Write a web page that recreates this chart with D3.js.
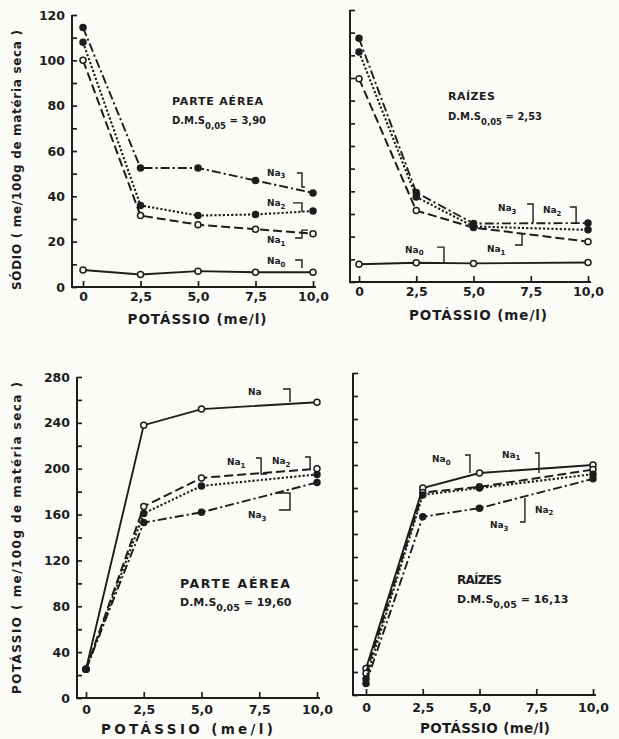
<!DOCTYPE html>
<html><head><meta charset="utf-8">
<script src="https://cdn.jsdelivr.net/npm/d3@7"></script>
<style>html,body{margin:0;padding:0;background:#fbfbf8;} svg{display:block}</style>
</head><body>
<svg id="c" width="619" height="739"></svg>
<script>
// ---- categories ----
const potassioLevels = [0, 2.5, 5.0, 7.5, 10.0];
const xTickLabels = ["0", "2,5", "5,0", "7,5", "10,0"];
const seriesNames = ["Na0", "Na1", "Na2", "Na3"];

// ---- Sódio, parte aérea (me/100 g) ----
const sodioAereaNa0 = [7.5, 5.5, 7.0, 6.5, 6.5];
const sodioAereaNa1 = [100, 31.5, 27.5, 25.5, 23.5];
const sodioAereaNa2 = [108, 36, 31.5, 32, 33.5];
const sodioAereaNa3 = [114.5, 52.5, 52.5, 47, 41.5];

// ---- Sódio, raízes ----
const sodioRaizNa0 = [7.8, 8.5, 8.2, null, 8.6];
const sodioRaizNa1 = [89.7, 31.5, 24, null, 17.8];
const sodioRaizNa2 = [101.5, 37.5, 24.5, null, 23];
const sodioRaizNa3 = [107.5, 39.5, 25.8, null, 26];

// ---- Potássio, parte aérea ----
const potAereaNa0 = [25, 238, 252, null, 258];
const potAereaNa1 = [25, 167, 192, null, 200];
const potAereaNa2 = [25, 161, 185, null, 195];
const potAereaNa3 = [25, 153, 162, null, 188];

// ---- Potássio, raízes ----
const potRaizNa0 = [23, 180, 193, null, 200];
const potRaizNa1 = [19, 176, 181, null, 196];
const potRaizNa2 = [14, 174, 180, null, 192];
const potRaizNa3 = [10, 155, 162.5, null, 188];

// ---- annotations (data units) ----
const annSodioAerea = [
  {label:"Na", sub:"3", tx:8.0, ty:49.0, br:[[9.30,50.3],[9.52,50.3],[9.52,44.1],[9.65,44.1]]},
  {label:"Na", sub:"2", tx:8.0, ty:35.7, br:[[9.13,37.1],[9.52,37.1],[9.52,33.1]]},
  {label:"Na", sub:"1", tx:8.0, ty:19.4, br:[[9.22,21.6],[9.52,21.6],[9.52,25.1],[9.78,25.1]]},
  {label:"Na", sub:"0", tx:8.0, ty:10.1, br:[[9.22,11.9],[9.52,11.9],[9.52,8.4]]}
];
const annSodioRaiz = [
  {label:"Na", sub:"3", tx:6.07, ty:31.3, br:[[7.34,34.4],[7.60,34.4],[7.60,26.0]]},
  {label:"Na", sub:"2", tx:8.03, ty:30.4, br:[[9.21,33.1],[9.48,33.1],[9.48,26.0]]},
  {label:"Na", sub:"1", tx:5.59, ty:13.2, br:[[6.81,16.3],[7.12,16.3],[7.12,21.2]]},
  {label:"Na", sub:"0", tx:2.01, ty:12.8, br:[[3.41,15.4],[3.71,15.4],[3.71,8.8]]}
];
const annPotAerea = [
  {label:"Na", sub:"", tx:7.01, ty:264.3, br:[[8.53,269.5],[8.83,269.5],[8.83,258.2]]},
  {label:"Na", sub:"1", tx:6.10, ty:203.2, br:[[7.36,209.4],[7.58,209.4],[7.58,195.4],[7.84,195.4]]},
  {label:"Na", sub:"2", tx:8.05, ty:204.1, br:[[9.48,210.2],[9.70,210.2],[9.70,198.9]]},
  {label:"Na", sub:"3", tx:7.01, ty:157.0, br:[[8.27,178.8],[8.83,178.8],[8.83,164.0],[8.35,164.0]]}
];
const annPotRaiz = [
  {label:"Na", sub:"0", tx:2.91, ty:202.6, br:[[4.36,208.7],[4.58,208.7],[4.58,193.0]]},
  {label:"Na", sub:"1", tx:5.99, ty:206.1, br:[[7.44,210.4],[7.62,210.4],[7.62,193.0]]},
  {label:"Na", sub:"2", tx:7.44, ty:158.3, br:[]},
  {label:"Na", sub:"3", tx:5.46, ty:145.2, br:[[7.0,171.3],[7.0,150.4],[6.78,150.4]]}
];

// ---- layout ----
const panels = [
  {x0:83, x1:313, yb:287, yt:15, ymax:120, axL:72, axR:316, minor:10, major:20, showY:true, xpad:5, ypad:7,
   series:[sodioAereaNa0, sodioAereaNa1, sodioAereaNa2, sodioAereaNa3], ann:annSodioAerea,
   title:"PARTE AÉREA", titleSize:11, titleLen:91, dmsSize:10, dms:"3,90", tx:172, ty:105, dmsY:124,
   xTitleX:197, xTitleY:324, xTitleLen:139,
   yTitle:"SÓDIO ( me/100g de matéria seca )", yTitleX:17, yTitleY:160, yTitleLen:260},
  {x0:359, x1:588, yb:282, yt:10, ymax:120, axL:350, axR:591, minor:10, major:20, showY:false, xpad:5, ypad:7,
   series:[sodioRaizNa0, sodioRaizNa1, sodioRaizNa2, sodioRaizNa3], ann:annSodioRaiz,
   title:"RAÍZES", titleSize:11, titleLen:47, dmsSize:10, dms:"2,53", tx:448, ty:100, dmsY:120,
   xTitleX:478, xTitleY:320, xTitleLen:138},
  {x0:86, x1:317, yb:698, yt:377, ymax:280, axL:77, axR:320, minor:20, major:40, showY:true, xpad:7, ypad:7,
   series:[potAereaNa0, potAereaNa1, potAereaNa2, potAereaNa3], ann:annPotAerea,
   title:"PARTE AÉREA", titleSize:12.5, titleLen:110, dmsSize:11, dms:"19,60", tx:180, ty:588, dmsY:606,
   xTitleX:187, xTitleY:734, xTitleLen:172,
   yTitle:"POTÁSSIO ( me/100g de matéria seca )", yTitleX:17, yTitleY:538, yTitleLen:312},
  {x0:366, x1:593, yb:695, yt:373, ymax:280, axL:353, axR:596, minor:20, major:40, showY:false, xpad:8, ypad:7,
   series:[potRaizNa0, potRaizNa1, potRaizNa2, potRaizNa3], ann:annPotRaiz,
   title:"RAÍZES", titleSize:12, titleLen:45, dmsSize:11, dms:"16,13", tx:457, ty:584, dmsY:603,
   xTitleX:485, xTitleY:733, xTitleLen:130}
];

const ink = "#1d1d1d";
const bg = "#fbfbf8";
const font = "'DejaVu Sans', Verdana, sans-serif";
const dashes = [null, "9,4", "2.2,2", "9,3,2.2,3"];
const widths = [1.9, 2.0, 2.1, 1.9];
const openMarker = [true, true, false, false];

const svg = d3.select("#c");
svg.append("rect").attr("width", 619).attr("height", 739).attr("fill", bg);

panels.forEach(p => {
  const x = d3.scaleLinear().domain([0, 10]).range([p.x0, p.x1]);
  const y = d3.scaleLinear().domain([0, p.ymax]).range([p.yb, p.yt]);
  const g = svg.append("g");

  // y axis
  const ya = d3.axisLeft(y)
    .tickValues(d3.range(0, p.ymax + 0.001, p.minor))
    .tickSize(-5).tickPadding(p.ypad)
    .tickFormat(v => (p.showY && v % p.major === 0) ? v : "");
  const yg = g.append("g").attr("transform", `translate(${p.axL},0)`).call(ya);
  yg.select(".domain").remove();
  yg.selectAll("line").attr("stroke", ink).attr("stroke-width", 1.7);
  yg.selectAll("text").attr("fill", ink).attr("font-family", font)
    .attr("font-weight", "bold").attr("font-size", 12.5);

  // x axis
  const xa = d3.axisBottom(x).tickValues(potassioLevels)
    .tickSize(-6).tickPadding(p.xpad)
    .tickFormat((d, i) => xTickLabels[i]);
  const xg = g.append("g").attr("transform", `translate(0,${p.yb})`).call(xa);
  xg.select(".domain").remove();
  xg.selectAll("line").attr("stroke", ink).attr("stroke-width", 1.7);
  xg.selectAll("text").attr("fill", ink).attr("font-family", font)
    .attr("font-weight", "bold").attr("font-size", 12.5);

  // axis lines
  g.append("path")
    .attr("d", `M${p.axL},${y(p.ymax)}V${p.yb}H${p.axR}`)
    .attr("fill", "none").attr("stroke", ink).attr("stroke-width", 2);

  // series
  const line = d3.line().x(d => x(d.x)).y(d => y(d.y));
  p.series.forEach((vals, k) => {
    const pts = potassioLevels.map((lv, i) => ({x: lv, y: vals[i]})).filter(d => d.y != null);
    g.append("path").datum(pts).attr("d", line)
      .attr("fill", "none").attr("stroke", ink)
      .attr("stroke-width", widths[k])
      .attr("stroke-dasharray", dashes[k]);
    g.selectAll(null).data(pts).join("circle")
      .attr("cx", d => x(d.x)).attr("cy", d => y(d.y)).attr("r", 3)
      .attr("fill", openMarker[k] ? bg : ink)
      .attr("stroke", ink).attr("stroke-width", 1.5);
  });

  // annotations
  p.ann.forEach(a => {
    const t = g.append("text").attr("x", x(a.tx)).attr("y", y(a.ty))
      .attr("font-family", font).attr("font-weight", "bold").attr("font-size", 9)
      .attr("fill", ink).text(a.label);
    if (a.sub) t.append("tspan").attr("dy", 2.5).attr("font-size", 7).text(a.sub);
    if (a.br.length) {
      g.append("path").attr("d", d3.line()(a.br.map(([u, v]) => [x(u), y(v)])))
        .attr("fill", "none").attr("stroke", ink).attr("stroke-width", 1.4);
    }
  });

  // panel titles
  g.append("text").attr("x", p.tx).attr("y", p.ty)
    .attr("font-family", font).attr("font-weight", "bold").attr("font-size", p.titleSize)
    .attr("fill", ink).attr("textLength", p.titleLen).attr("lengthAdjust", "spacing")
    .text(p.title);
  const d = g.append("text").attr("x", p.tx).attr("y", p.dmsY)
    .attr("font-family", font).attr("font-weight", "bold").attr("font-size", p.dmsSize)
    .attr("fill", ink);
  d.append("tspan").text("D.M.S");
  d.append("tspan").attr("dy", 5).attr("font-size", p.dmsSize - 1.5).text("0,05");
  d.append("tspan").attr("dy", -5).text(" = " + p.dms);

  // x title
  g.append("text").attr("x", p.xTitleX).attr("y", p.xTitleY).attr("text-anchor", "middle")
    .attr("font-family", font).attr("font-weight", "bold").attr("font-size", 13.5)
    .attr("fill", ink).attr("textLength", p.xTitleLen).attr("lengthAdjust", "spacing")
    .text("POTÁSSIO (me/l)");

  // y title
  if (p.yTitle) {
    g.append("text")
      .attr("transform", `translate(${p.yTitleX},${p.yTitleY}) rotate(-90)`)
      .attr("text-anchor", "middle").attr("dominant-baseline", "central")
      .attr("font-family", font).attr("font-weight", "bold").attr("font-size", 12)
      .attr("fill", ink).attr("textLength", p.yTitleLen).attr("lengthAdjust", "spacing")
      .text(p.yTitle);
  }
});
</script>
</body></html>
